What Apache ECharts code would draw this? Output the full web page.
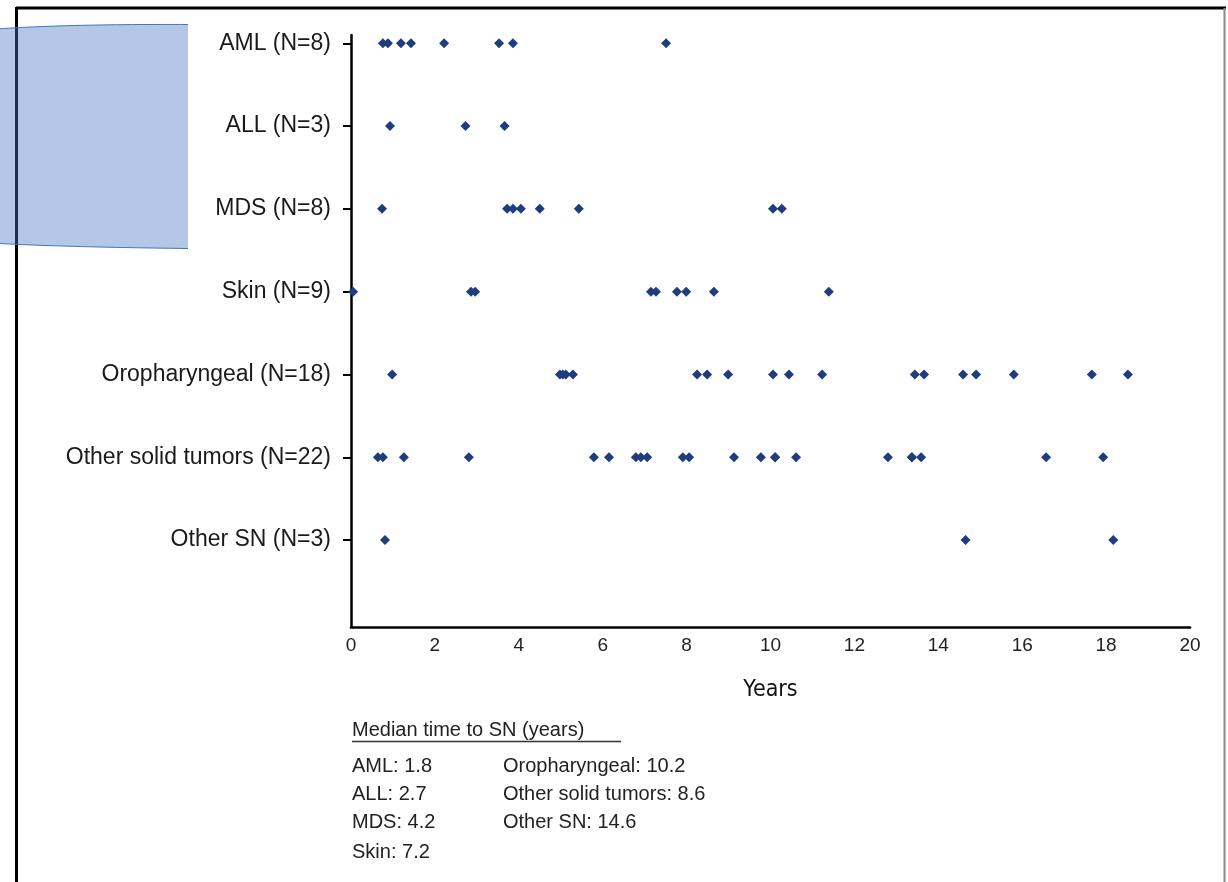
<!DOCTYPE html>
<html>
<head>
<meta charset="utf-8">
<script src="https://cdn.jsdelivr.net/npm/echarts@6/dist/echarts.min.js"></script>
<style>
html,body{margin:0;padding:0;background:#fff;}
#chart{width:1228px;height:882px;}
</style>
</head>
<body>
<div id="chart"></div>
<script>
// Categories (top to bottom)
const categories = [
  'AML (N=8)', 'ALL (N=3)', 'MDS (N=8)', 'Skin (N=9)',
  'Oropharyngeal (N=18)', 'Other solid tumors (N=22)', 'Other SN (N=3)'
];
// Years to second neoplasm, per category
const amlYears = [0.76, 0.88, 1.19, 1.43, 2.22, 3.53, 3.86, 7.51];
const allYears = [0.93, 2.73, 3.66];
const mdsYears = [0.74, 3.72, 3.86, 4.05, 4.50, 5.43, 10.06, 10.27];
const skinYears = [0.05, 2.86, 2.96, 7.15, 7.27, 7.77, 7.99, 8.65, 11.39];
const oroYears = [0.98, 4.98, 5.05, 5.12, 5.29, 8.25, 8.49, 8.99, 10.06, 10.44, 11.23, 13.44, 13.66, 14.59, 14.90, 15.80, 17.66, 18.52];
const solidYears = [0.64, 0.76, 1.26, 2.81, 5.79, 6.15, 6.79, 6.91, 7.06, 7.91, 8.06, 9.13, 9.77, 10.11, 10.11, 10.61, 12.80, 13.37, 13.37, 13.59, 16.57, 17.93];
const otherSnYears = [0.81, 14.65, 18.17];
// x-axis ticks
const xTicks = [0, 2, 4, 6, 8, 10, 12, 14, 16, 18, 20];
// Median text
const medianTitle = 'Median time to SN (years)';
const medianCol1 = ['AML: 1.8', 'ALL: 2.7', 'MDS: 4.2', 'Skin: 7.2'];
const medianCol2 = ['Oropharyngeal: 10.2', 'Other solid tumors: 8.6', 'Other SN: 14.6'];

const allSeries = [amlYears, allYears, mdsYears, skinYears, oroYears, solidYears, otherSnYears];
const points = [];
allSeries.forEach((arr, i) => arr.forEach(v => points.push([v, i])));

const FONT = '"Liberation Sans", Arial, Helvetica, sans-serif';
const rowY = [766, 794, 822, 852];

// decorative overlay shape (quadratic edges)
function quad(p0, c, p1, n) {
  const out = [];
  for (let i = 0; i <= n; i++) {
    const t = i / n, u = 1 - t;
    out.push([u*u*p0[0] + 2*u*t*c[0] + t*t*p1[0], u*u*p0[1] + 2*u*t*c[1] + t*t*p1[1]]);
  }
  return out;
}
const topEdge = quad([-10, 29.5], [60, 24], [188, 24.5], 30);
const botEdge = quad([188, 248.5], [60, 247], [-10, 243], 30);
const shapePts = topEdge.concat(botEdge);

const graphics = [
  // frame
  {type:'line', shape:{x1:16, y1:8, x2:1226, y2:8}, style:{stroke:'#000', lineWidth:3}, z:1},
  {type:'line', shape:{x1:16.5, y1:7, x2:16.5, y2:882}, style:{stroke:'#000', lineWidth:3}, z:1},
  {type:'line', shape:{x1:1224.5, y1:8, x2:1224.5, y2:882}, style:{stroke:'#8a8a8a', lineWidth:2}, z:1},
  // blue overlay
  {type:'polygon', shape:{points:shapePts}, style:{fill:'rgba(68,114,196,0.4)'}, z:2},
  {type:'polyline', shape:{points:topEdge}, style:{fill:null, stroke:'#4472c4', lineWidth:1}, z:3},
  {type:'polyline', shape:{points:botEdge}, style:{fill:null, stroke:'#4472c4', lineWidth:1}, z:3},
  // median text
  {type:'text', x:352, y:730, style:{text:medianTitle, font:'20px ' + FONT, fill:'#222', verticalAlign:'middle'}, z:3},
  {type:'line', shape:{x1:352, y1:741.5, x2:621, y2:741.5}, style:{stroke:'#333', lineWidth:1.5}, z:3}
];
medianCol1.forEach((t, i) => graphics.push({type:'text', x:352, y:rowY[i], style:{text:t, font:'20px ' + FONT, fill:'#222', verticalAlign:'middle'}, z:3}));
medianCol2.forEach((t, i) => graphics.push({type:'text', x:503, y:rowY[i], style:{text:t, font:'20px ' + FONT, fill:'#222', verticalAlign:'middle'}, z:3}));

const chart = echarts.init(document.getElementById('chart'), null, {renderer:'canvas'});
chart.setOption({
  backgroundColor:'#fff',
  animation:false,
  grid:{left:351, right:38, top:35, bottom:255, containLabel:false},
  xAxis:{
    type:'value', min:0, max:20, interval:2,
    axisLine:{show:true, onZero:false, lineStyle:{color:'#000', width:2.5}},
    axisTick:{show:false},
    splitLine:{show:false},
    axisLabel:{margin:9, fontSize:19, color:'#222', fontFamily:FONT},
    name:'Years', nameLocation:'middle', nameGap:52,
    nameTextStyle:{fontSize:23, color:'#111', fontFamily:'"Liberation Sans Narrow", "DejaVu Sans Condensed", sans-serif'}
  },
  yAxis:{
    type:'value', min:-0.1, max:7.05, inverse:true,
    axisLine:{show:true, onZero:false, lineStyle:{color:'#000', width:2.5}},
    axisTick:{show:true, inside:false, length:8, lineStyle:{color:'#000', width:2},
      customValues:[0,1,2,3,4,5,6]},
    splitLine:{show:false},
    axisLabel:{margin:20, fontSize:23, color:'#1a1a1a', fontFamily:FONT,
      customValues:[0,1,2,3,4,5,6],
      formatter: v => categories[Math.round(v)] || ''}
  },
  series:[{
    type:'scatter',
    data:points,
    symbol:'diamond',
    symbolSize:[10,10],
    itemStyle:{color:'#1f3d7c', opacity:1},
    z:5
  }],
  graphic:graphics
});
</script>
</body>
</html>
